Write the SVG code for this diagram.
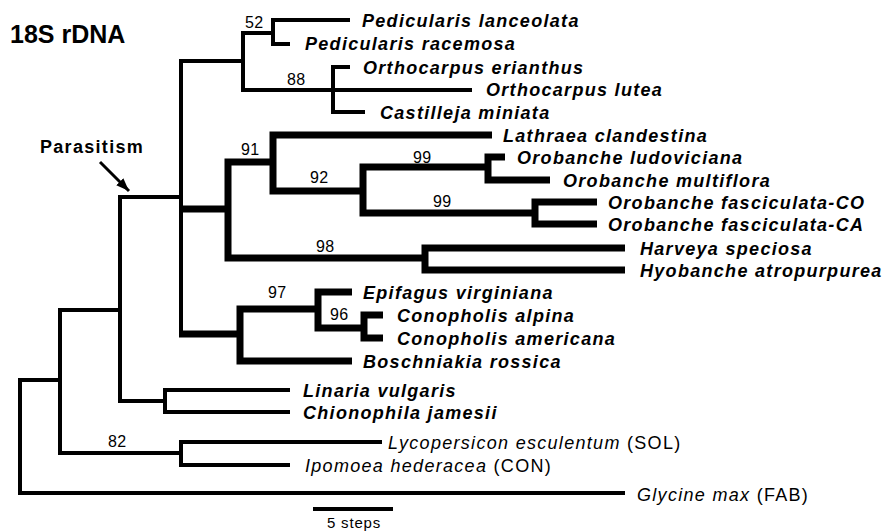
<svg xmlns="http://www.w3.org/2000/svg" width="885" height="532" viewBox="0 0 885 532">
<style>
.thin{fill:none;stroke:#000;stroke-width:4;stroke-linejoin:miter}
.thick{fill:none;stroke:#000;stroke-width:7;stroke-linejoin:miter}
text{font-family:"Liberation Sans",Arial,sans-serif;fill:#000}
.b{font-size:18px;font-weight:bold;font-style:italic;letter-spacing:1.3px}
.i{font-size:18px;font-style:italic;letter-spacing:1.3px}
.r{font-style:normal}
.n{font-size:16px;letter-spacing:0.3px}
.t{font-size:25px;font-weight:bold}
.p{font-size:18px;font-weight:bold;letter-spacing:1.3px}
</style>
<defs>
<marker id="ah" markerUnits="userSpaceOnUse" markerWidth="14" markerHeight="12" refX="13" refY="5" orient="auto">
<path d="M0,0 L13,5 L0,10 Z" fill="#000"/>
</marker>
</defs>
<rect width="885" height="532" fill="#fff"/>
<g id="connectors">
<path class="thin" d="M60,380 H20 V493 H625"/>
<path class="thin" d="M120,310 H60 V453 H181"/>
<path class="thin" d="M382,442 H181 V465 H290"/>
<path class="thin" d="M181,197 H120 V401 H165"/>
<path class="thin" d="M290,390 H165 V412 H290"/>
<path class="thin" d="M243,61 H181 V334"/>
<path class="thin" d="M273,33 H243 V90 H472"/>
<path class="thin" d="M350,20 H273 V44 H290"/>
<path class="thin" d="M350,67 H333 V112 H365"/>
<path class="thick" d="M179,209 H228"/>
<path class="thick" d="M273,162 H228 V258 H425"/>
<path class="thick" d="M492,135 H273 V191 H363"/>
<path class="thick" d="M488,167 H363 V213 H535"/>
<path class="thick" d="M505,157 H488 V180 H550"/>
<path class="thick" d="M597,202 H535 V224 H597"/>
<path class="thick" d="M625,248 H425 V270 H625"/>
<path class="thick" d="M179,334 H240"/>
<path class="thick" d="M318,309 H240 V361 H352"/>
<path class="thick" d="M352,292 H318 V328 H364"/>
<path class="thick" d="M383,315 H364 V338 H383"/>
</g>
<g id="support">
<text class="n" x="245" y="28">52</text>
<text class="n" x="287" y="85">88</text>
<text class="n" x="241" y="155">91</text>
<text class="n" x="413" y="163">99</text>
<text class="n" x="310" y="183">92</text>
<text class="n" x="433" y="207">99</text>
<text class="n" x="316" y="252">98</text>
<text class="n" x="268" y="298">97</text>
<text class="n" x="330" y="320">96</text>
<text class="n" x="108" y="447">82</text>
</g>
<g id="title"><text class="t" x="10" y="43">18S rDNA</text></g>
<g id="parasitism">
<text class="p" x="40" y="153">Parasitism</text>
<line x1="100" y1="162" x2="129" y2="191" stroke="#000" stroke-width="3" marker-end="url(#ah)"/>
</g>
<g id="t-ped-lan"><text class="b" x="362" y="27">Pedicularis lanceolata</text></g>
<g id="t-ped-rac"><text class="b" x="305" y="50">Pedicularis racemosa</text></g>
<g id="t-ort-eri"><text class="b" x="363" y="74">Orthocarpus erianthus</text></g>
<g id="t-ort-lut"><text class="b" x="486" y="96">Orthocarpus lutea</text></g>
<g id="t-cas-min"><text class="b" x="380" y="119">Castilleja miniata</text></g>
<g id="t-lat-cla"><text class="b" x="503" y="142">Lathraea clandestina</text></g>
<g id="t-oro-lud"><text class="b" x="517" y="164">Orobanche ludoviciana</text></g>
<g id="t-oro-mul"><text class="b" x="563" y="187">Orobanche multiflora</text></g>
<g id="t-oro-fco"><text class="b" x="608" y="209">Orobanche fasciculata-CO</text></g>
<g id="t-oro-fca"><text class="b" x="608" y="231">Orobanche fasciculata-CA</text></g>
<g id="t-har-spe"><text class="b" x="640" y="255">Harveya speciosa</text></g>
<g id="t-hyo-atr"><text class="b" x="640" y="277">Hyobanche atropurpurea</text></g>
<g id="t-epi-vir"><text class="b" x="363" y="299">Epifagus virginiana</text></g>
<g id="t-con-alp"><text class="b" x="397" y="322">Conopholis alpina</text></g>
<g id="t-con-ame"><text class="b" x="397" y="345">Conopholis americana</text></g>
<g id="t-bos-ros"><text class="b" x="363" y="368">Boschniakia rossica</text></g>
<g id="t-lin-vul"><text class="b" x="303" y="397">Linaria vulgaris</text></g>
<g id="t-chi-jam"><text class="b" x="303" y="419">Chionophila jamesii</text></g>
<g id="t-lyc-esc"><text class="i" x="388" y="449">Lycopersicon esculentum<tspan class="r"> (SOL)</tspan></text></g>
<g id="t-ipo-hed"><text class="i" x="305" y="472">Ipomoea hederacea<tspan class="r"> (CON)</tspan></text></g>
<g id="t-gly-max"><text class="i" x="637" y="501">Glycine max<tspan class="r"> (FAB)</tspan></text></g>
<g id="scale">
<line x1="313" y1="509" x2="393" y2="509" stroke="#000" stroke-width="4"/>
<text x="327" y="528" style="font-size:15px;letter-spacing:0.8px">5 steps</text>
</g>
</svg>
